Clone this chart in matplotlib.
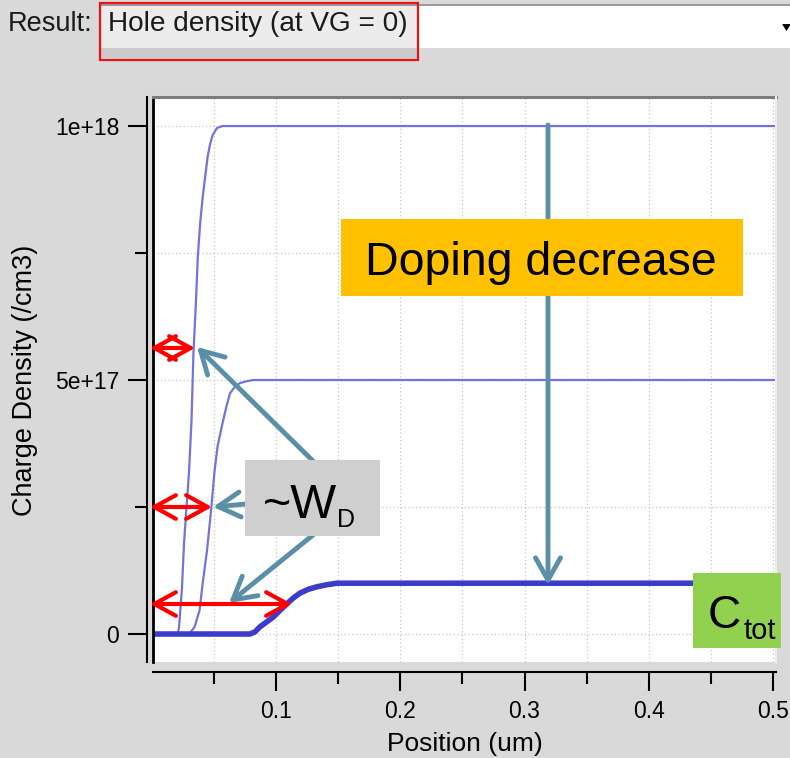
import matplotlib
matplotlib.use('Agg')
import matplotlib.pyplot as plt
from matplotlib.patches import Rectangle, FancyArrowPatch, Polygon
from matplotlib.ticker import FixedLocator

plt.rcParams['font.family'] = ['Liberation Sans', 'DejaVu Sans']

# ---------------- data ----------------
pos_1e18 = [0.0, 0.021, 0.022, 0.0243, 0.026, 0.028, 0.030, 0.032, 0.0335, 0.0355,
            0.037, 0.039, 0.041, 0.043, 0.045, 0.047, 0.049, 0.0525, 0.057, 0.503]
dens_1e18 = [0, 0, 0.15e17, 0.9e17, 1.8e17, 2.5e17, 3.2e17, 4.2e17, 5.5e17, 6.5e17,
             7.4e17, 8.1e17, 8.6e17, 9.0e17, 9.4e17, 9.65e17, 9.82e17, 9.96e17, 1e18, 1e18]

pos_5e17 = [0.0, 0.030, 0.0345, 0.0385, 0.041, 0.0445, 0.048, 0.0505, 0.053, 0.0565,
            0.060, 0.063, 0.067, 0.071, 0.077, 0.082, 0.503]
dens_5e17 = [0, 0, 0.14e17, 0.47e17, 1.0e17, 1.65e17, 2.5e17, 3.2e17, 3.7e17, 4.1e17,
             4.47e17, 4.74e17, 4.87e17, 4.94e17, 4.98e17, 5e17, 5e17]

pos_1e17 = [0.0, 0.079, 0.083, 0.087, 0.092, 0.0976, 0.103, 0.109, 0.114, 0.119,
            0.126, 0.133, 0.141, 0.149, 0.503]
dens_1e17 = [0, 0, 0.04e17, 0.14e17, 0.23e17, 0.33e17, 0.46e17, 0.6e17, 0.71e17, 0.8e17,
             0.88e17, 0.93e17, 0.97e17, 1.0e17, 1.0e17]

x_major = [0.1, 0.2, 0.3, 0.4, 0.5]
x_major_labels = ['0.1', '0.2', '0.3', '0.4', '0.5']
x_minor = [0.05, 0.15, 0.25, 0.35, 0.45]
y_major = [0, 5e17, 1e18]
y_major_labels = ['0', '5e+17', '1e+18']
y_minor = [2.5e17, 7.5e17]

# ---------------- figure ----------------
W, H = 790, 758
BG = '#d9d9d9'
fig = plt.figure(figsize=(W / 100, H / 100), dpi=100, facecolor=BG)


def fpx(x, y):
    return (x / W, 1 - y / H)


ax = fig.add_axes([153 / W, 1 - 662 / H, 623 / W, 565 / H])
ax.set_facecolor('white')

thin = '#7272e2'
thick = '#3c3ccc'
ax.plot(pos_1e18, dens_1e18, color=thin, lw=1.6, zorder=3)
ax.plot(pos_5e17, dens_5e17, color=thin, lw=1.6, zorder=3)
ax.plot(pos_1e17, dens_1e17, color=thick, lw=4.0, zorder=4, solid_capstyle='butt',
        solid_joinstyle='round')

ax.set_xlim(0.001, 0.5024)
ax.set_ylim(-5.51e16, 1.0571e18)

ax.set_xticks(x_major, x_major_labels)
ax.xaxis.set_minor_locator(FixedLocator(x_minor))
ax.set_yticks(y_major, y_major_labels)
ax.yaxis.set_minor_locator(FixedLocator(y_minor))

ax.grid(which='both', color='#c4c4c4', lw=0.9, linestyle=(0, (1, 2)), zorder=0)
ax.set_axisbelow(True)

for s in ['top', 'right']:
    ax.spines[s].set_visible(False)
ax.spines['left'].set_position(('outward', 4.3))
ax.spines['bottom'].set_position(('outward', 7.2))
for s in ['left', 'bottom']:
    ax.spines[s].set_linewidth(1.5)
    ax.spines[s].set_color('black')

ax.tick_params(which='major', direction='out', length=13.5, width=1.5,
               labelsize=16.5, pad=6.5, colors='black')
ax.tick_params(which='minor', direction='out', length=8.6, width=1.5, colors='black')

# frame of the plotting area
ax.plot([0, 0], [0, 1], transform=ax.transAxes, color='black', lw=2.0,
        clip_on=False, zorder=6)
ax.plot([0, 1], [1, 1], transform=ax.transAxes, color='#7c7c7c', lw=2.2,
        clip_on=False, zorder=6)
ax.plot([1, 1], [0, 1], transform=ax.transAxes, color='#ececec', lw=1.5,
        clip_on=False, zorder=6)

ax.set_xlabel('Position (um)', fontsize=19)
ax.set_ylabel('Charge Density (/cm3)', fontsize=19.5)
ax.xaxis.label.set_va('center')
ax.yaxis.label.set_va('center')
ax.xaxis.set_label_coords(*fpx(465, 744), transform=fig.transFigure)
ax.yaxis.set_label_coords(*fpx(25, 380), transform=fig.transFigure)

# ---------------- top bar ----------------
fig.add_artist(Rectangle(fpx(100, 48), 690 / W, 44 / H, transform=fig.transFigure,
                         facecolor='white', edgecolor='none', zorder=1))
fig.add_artist(Rectangle(fpx(101, 48), 317 / W, 43 / H, transform=fig.transFigure,
                         facecolor='#ececec', edgecolor='none', zorder=1))
fig.add_artist(Rectangle(fpx(101, 58), 317 / W, 10 / H, transform=fig.transFigure,
                         facecolor='#cbcbcb', edgecolor='none', zorder=1))
fig.add_artist(plt.Line2D([100 / W, 1], [1 - 4.5 / H, 1 - 4.5 / H], transform=fig.transFigure,
                          color='#8a8a8a', lw=1.2, zorder=2))
fig.add_artist(Rectangle(fpx(100, 60), 318 / W, 57 / H, transform=fig.transFigure,
                         facecolor='none', edgecolor='#ee1111', lw=1.6, zorder=3))
fig.add_artist(Polygon([fpx(782, 24), fpx(791, 24), fpx(786.5, 31)], closed=True,
                       transform=fig.transFigure, facecolor='black', edgecolor='none',
                       zorder=3))
fig.text(*fpx(8, 31), 'Result:', fontsize=19.5, ha='left', va='baseline', color='#1a1a1a')
fig.text(*fpx(108, 31), 'Hole density (at VG = 0)', fontsize=20.2, ha='left',
         va='baseline', color='#1a1a1a')

# ---------------- annotations ----------------
teal = '#5b8fa8'
red = '#ff0000'


def arrow(p0, p1, color, style, lw, z=7):
    a = FancyArrowPatch(fpx(*p0), fpx(*p1), transform=fig.transFigure,
                        arrowstyle=style, mutation_scale=1, color=color, lw=lw,
                        shrinkA=0, shrinkB=0, capstyle='round', joinstyle='round',
                        zorder=z)
    fig.add_artist(a)


tstyle = '->, head_length=16, head_width=9'
rstyle = '<->, head_length=15.5, head_width=8.5'

# vertical "doping decrease" arrow
arrow((548, 125), (548, 585), teal, tstyle, 3.5)
# W_D pointers
arrow((313, 461), (197, 347), teal, tstyle, 3.5)
arrow((246, 504), (213, 507), teal, tstyle, 3.5)
arrow((313, 535), (229, 603), teal, tstyle, 3.5)
# red depletion-width arrows
arrow((150, 348), (195, 348), red, rstyle, 3.0)
arrow((150, 507), (212, 507), red, rstyle, 3.0)
arrow((150, 604), (292, 604), red, rstyle, 3.0)

# boxes
fig.add_artist(Rectangle(fpx(341, 296), 402 / W, 77 / H, transform=fig.transFigure,
                         facecolor='#ffc000', edgecolor='none', zorder=8))
fig.text(*fpx(541, 275), 'Doping decrease', fontsize=33.5, ha='center', va='baseline',
         color='black', zorder=9)

fig.add_artist(Rectangle(fpx(245, 536), 135 / W, 76 / H, transform=fig.transFigure,
                         facecolor='#cfcfcf', edgecolor='none', zorder=8))
fig.text(*fpx(263, 518), '~W', fontsize=35, ha='left', va='baseline', color='black', zorder=9)
fig.text(*fpx(337, 527), 'D', fontsize=18, ha='left', va='baseline', color='black', zorder=9)

fig.add_artist(Rectangle(fpx(693, 648), 88 / W, 75 / H, transform=fig.transFigure,
                         facecolor='#92d050', edgecolor='none', zorder=8))
fig.text(*fpx(708, 628), 'C', fontsize=33, ha='left', va='baseline', color='black', zorder=9)
fig.text(*fpx(744, 639), 'tot', fontsize=21, ha='left', va='baseline', color='black', zorder=9)

fig.savefig('out.png', dpi=100, facecolor=BG)
